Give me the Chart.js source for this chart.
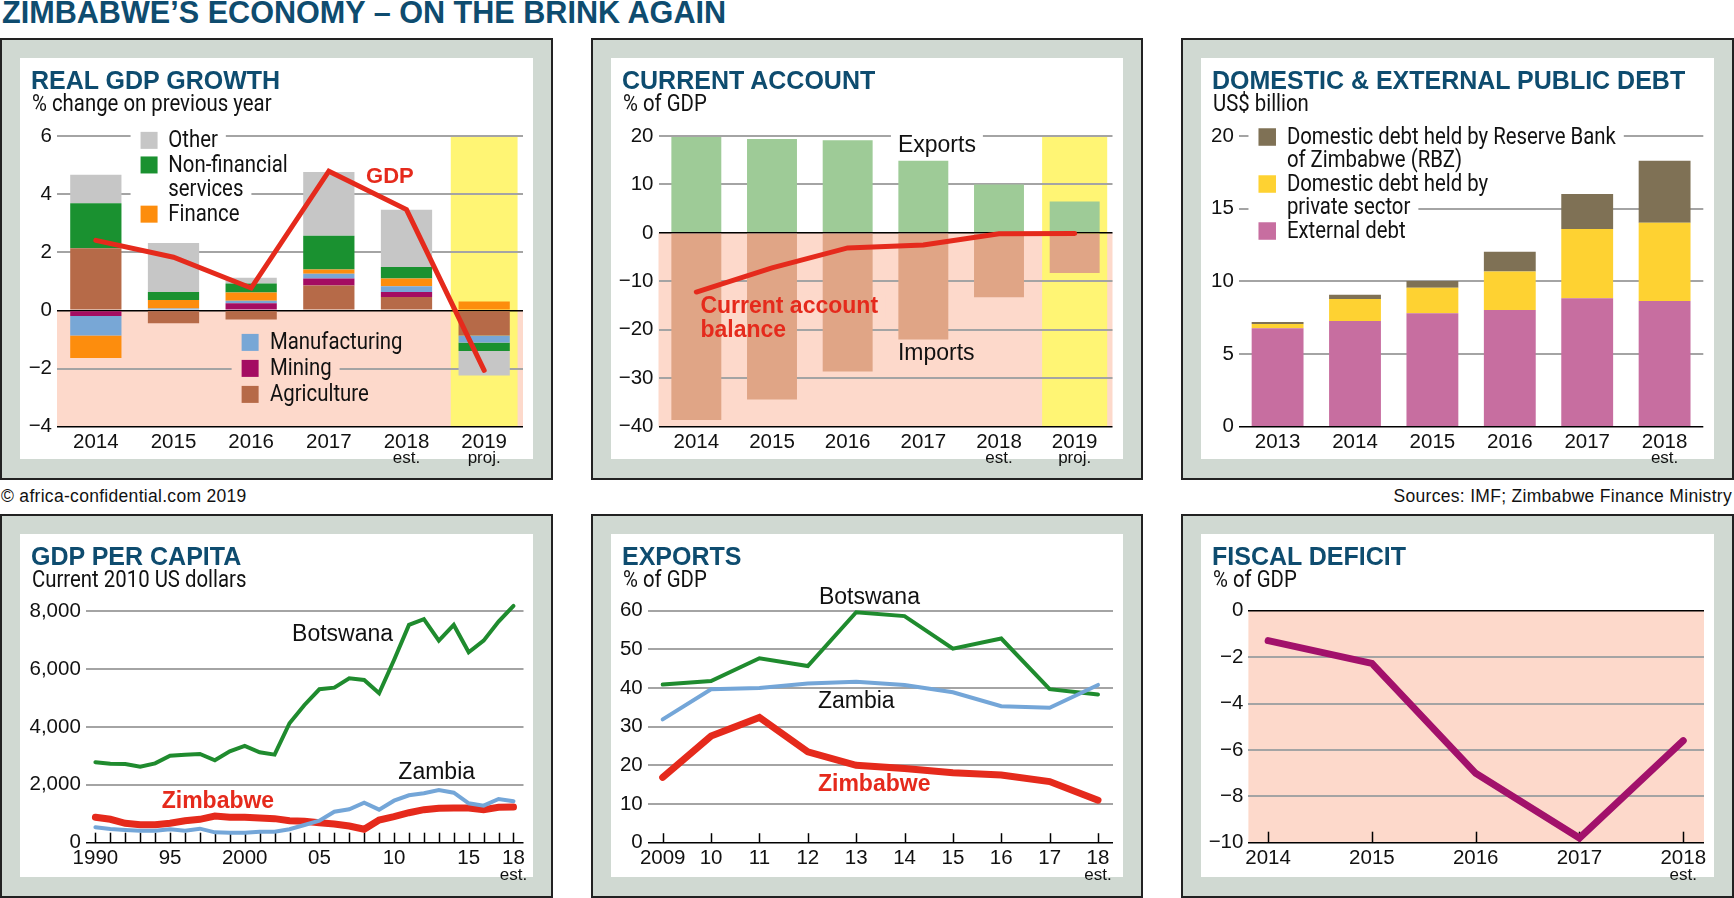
<!DOCTYPE html>
<html lang="en">
<head>
<meta charset="utf-8">
<title>Zimbabwe's economy – on the brink again</title>
<script src="https://cdn.jsdelivr.net/npm/chart.js@4.4.1/dist/chart.umd.min.js"></script>
<style>
  html, body { margin:0; padding:0; background:#fff; }
  body { position:relative; width:1734px; height:898px; overflow:hidden; font-family:'Liberation Sans', Arial, sans-serif; color:#111; }
  #mainTitle { position:absolute; left:2px; top:-3px; font-weight:bold; font-size:30.6px; line-height:1; color:#0e4c6f; white-space:nowrap; }
  .foot { position:absolute; top:488px; font-size:17.5px; line-height:1; letter-spacing:0.3px; white-space:nowrap; color:#111; }
  .panel { position:absolute; box-sizing:border-box; border:2px solid #222; background:#d0d9d2; }
  .inner { position:absolute; left:18px; top:18px; right:18px; bottom:19px; background:#fff; }
  .panel canvas { position:absolute; left:-2px; top:-2px; }
  .ptitle { position:absolute; left:29px; top:28px; font-weight:bold; font-size:25px; line-height:1; color:#0e4c6f; white-space:nowrap; }
  .psub { position:absolute; left:30px; top:52.3px; font-family:Roboto, sans-serif; font-size:23px; line-height:1; white-space:nowrap; color:#111;
          transform:scaleX(0.885); transform-origin:0 0; }
</style>
</head>
<body>
<div id="mainTitle">ZIMBABWE’S ECONOMY – ON THE BRINK AGAIN</div>

<div class="panel" style="left:0;top:38px;width:553px;height:442px">
  <div class="inner"></div>
  <canvas id="cGdp" width="553" height="442"></canvas>
  <div class="ptitle">REAL GDP GROWTH</div>
  <div class="psub">% change on previous year</div>
</div>
<div class="panel" style="left:591px;top:38px;width:552px;height:442px">
  <div class="inner"></div>
  <canvas id="cCa" width="552" height="442"></canvas>
  <div class="ptitle">CURRENT ACCOUNT</div>
  <div class="psub">% of GDP</div>
</div>
<div class="panel" style="left:1181px;top:38px;width:553px;height:442px">
  <div class="inner"></div>
  <canvas id="cDebt" width="553" height="442"></canvas>
  <div class="ptitle">DOMESTIC &amp; EXTERNAL PUBLIC DEBT</div>
  <div class="psub">US$ billion</div>
</div>

<div class="foot" style="left:1px">© africa-confidential.com 2019</div>
<div class="foot" style="right:2px">Sources: IMF; Zimbabwe Finance Ministry</div>

<div class="panel" style="left:0;top:514px;width:553px;height:384px">
  <div class="inner"></div>
  <canvas id="cPc" width="553" height="384"></canvas>
  <div class="ptitle">GDP PER CAPITA</div>
  <div class="psub">Current 2010 US dollars</div>
</div>
<div class="panel" style="left:591px;top:514px;width:552px;height:384px">
  <div class="inner"></div>
  <canvas id="cExp" width="552" height="384"></canvas>
  <div class="ptitle">EXPORTS</div>
  <div class="psub">% of GDP</div>
</div>
<div class="panel" style="left:1181px;top:514px;width:553px;height:384px">
  <div class="inner"></div>
  <canvas id="cFis" width="553" height="384"></canvas>
  <div class="ptitle">FISCAL DEFICIT</div>
  <div class="psub">% of GDP</div>
</div>

<script>
// ---------------- DATA ----------------
// Real GDP growth (% change on previous year), sector contributions
const gdpYears = ['2014', '2015', '2016', '2017', '2018', '2019'];
const gdpYearNotes = ['', '', '', '', 'est.', 'proj.'];
const agriculture = [2.14, -0.44, -0.31, 0.86, 0.46, -0.86];
const mining = [-0.19, 0, 0.25, 0.24, 0.17, 0];
const manufacturing = [-0.67, 0.07, 0.08, 0.16, 0.20, -0.25];
const finance = [-0.78, 0.29, 0.29, 0.15, 0.27, 0.31];
const nonFinancialServices = [1.55, 0.27, 0.31, 1.16, 0.39, -0.29];
const otherSectors = [0.98, 1.69, 0.19, 2.19, 1.97, -0.84];
const gdpGrowth = [2.41, 1.83, 0.77, 4.79, 3.47, -2.06];

// Current account (% of GDP)
const caYears = ['2014', '2015', '2016', '2017', '2018', '2019'];
const caYearNotes = ['', '', '', '', 'est.', 'proj.'];
const exportsShare = [19.8, 19.4, 19.1, 14.9, 10.0, 6.5];
const importsShare = [-38.6, -34.4, -28.6, -22.0, -13.3, -8.3];
const currentAccountBalance = [-12.2, -7.2, -3.1, -2.5, -0.2, -0.1];

// Domestic & external public debt (US$ billion)
const debtYears = ['2013', '2014', '2015', '2016', '2017', '2018'];
const debtYearNotes = ['', '', '', '', '', 'est.'];
const externalDebt = [6.77, 7.27, 7.80, 8.03, 8.83, 8.65];
const privateDomesticDebt = [0.29, 1.51, 1.76, 2.64, 4.77, 5.39];
const rbzDomesticDebt = [0.14, 0.30, 0.46, 1.37, 2.41, 4.26];

// GDP per capita (current 2010 US dollars)
const pcYears = [1990, 1991, 1992, 1993, 1994, 1995, 1996, 1997, 1998, 1999, 2000, 2001, 2002, 2003, 2004,
                 2005, 2006, 2007, 2008, 2009, 2010, 2011, 2012, 2013, 2014, 2015, 2016, 2017, 2018];
const botswanaPc = [2777, 2729, 2717, 2625, 2740, 3005, 3040, 3063, 2846, 3157, 3340, 3122, 3040, 4124, 4756,
                    5298, 5354, 5678, 5620, 5160, 6310, 7519, 7716, 6977, 7519, 6576, 6977, 7633, 8176];
const zambiaPc = [532, 473, 439, 414, 414, 463, 414, 484, 358, 346, 346, 380, 380, 463, 611,
                  760, 1071, 1153, 1382, 1140, 1451, 1637, 1706, 1820, 1727, 1361, 1278, 1509, 1430];
const zimbabwePc = [877, 808, 670, 622, 622, 670, 760, 808, 922, 877, 877, 854, 831, 760, 737,
                    691, 645, 577, 463, 784, 898, 1036, 1140, 1188, 1200, 1200, 1140, 1220, 1232];
const pcTickYears = [1990, 1995, 2000, 2005, 2010, 2015, 2018];
const pcTickLabels = ['1990', '95', '2000', '05', '10', '15', '18'];
const pcNoteYears = [2018];
const pcNotes = ['est.'];

// Exports (% of GDP)
const expYears = [2009, 2010, 2011, 2012, 2013, 2014, 2015, 2016, 2017, 2018];
const expTickLabels = ['2009', '10', '11', '12', '13', '14', '15', '16', '17', '18'];
const botswanaExports = [40.9, 41.8, 47.7, 45.7, 59.6, 58.6, 50.2, 52.8, 39.7, 38.3];
const zambiaExports = [31.9, 39.7, 40.0, 41.2, 41.6, 40.8, 38.9, 35.3, 34.9, 40.8];
const zimbabweExports = [16.9, 27.6, 32.4, 23.5, 20.0, 19.2, 18.1, 17.5, 15.8, 11.0];
const expNoteYears = [2018];
const expNotes = ['est.'];

// Fiscal deficit (% of GDP)
const fiscalYears = [2014, 2015, 2016, 2017, 2018];
const fiscalTickLabels = ['2014', '2015', '2016', '2017', '2018'];
const fiscalBalance = [-1.29, -2.27, -7.01, -9.8, -5.60];
const fiscalNoteYears = [2018];
const fiscalNotes = ['est.'];

// ---------------- STYLE ----------------
const FONT = "'Liberation Sans', Arial, sans-serif";
const NFONT = "23px Roboto, sans-serif";   // drawn horizontally condensed
const NSCALE = 0.885;
const INK = '#111';
const GRID = '#a4a4a4';
const PINK = '#fdd9cb';
const YELLOW = '#fff574';
const RED = '#e52a1c';

Chart.defaults.font.family = FONT;
Chart.defaults.color = INK;
Chart.defaults.animation = false;
Chart.defaults.events = [];
Chart.defaults.plugins.legend.display = false;
Chart.defaults.plugins.tooltip.enabled = false;

const minus = v => String(v).replace('-', '\u2212');

function yScale(o) {
  const strong = c => c.tick && (c.tick.value === 0 || c.tick.value === o.min);
  return {
    type: 'linear', min: o.min, max: o.max, stacked: !!o.stacked,
    afterFit: s => { s.width = o.width; },
    ticks: { stepSize: o.step, padding: 5, color: INK, font: { size: 20.5 }, callback: o.fmt || minus },
    grid: { drawTicks: false, color: c => strong(c) ? '#000' : GRID, lineWidth: c => strong(c) ? 1.6 : 2 },
    border: { display: false }
  };
}
function xCat(height) {
  return {
    type: 'category', offset: true, stacked: true,
    afterFit: s => { s.height = height; },
    grid: { display: false, drawTicks: false }, border: { display: false },
    ticks: { padding: 3, autoSkip: false, maxRotation: 0, color: INK, font: { size: 20.5 } }
  };
}
function xLin(o) {
  return {
    type: 'linear', min: o.min, max: o.max,
    afterFit: s => { s.height = o.height; },
    afterBuildTicks: s => { s.ticks = o.ticks.map(v => ({ value: v })); },
    grid: { display: false, drawTicks: false }, border: { display: false },
    ticks: { padding: 3, autoSkip: false, maxRotation: 0, color: INK, font: { size: 20.5 },
      callback: v => { const i = o.labelAt.indexOf(v); return i >= 0 ? o.labels[i] : ''; } }
  };
}

// background shading: pink below zero, yellow highlight column
function shadePlugin(opts) {
  return { id: 'shade', beforeDraw(chart) {
    const { ctx, chartArea: a, scales: { x, y } } = chart;
    ctx.save();
    if (opts.neg) {
      const y0 = Math.min(a.bottom, Math.max(a.top, y.getPixelForValue(0)));
      ctx.fillStyle = PINK;
      ctx.fillRect(a.left, y0, a.right - a.left, a.bottom - y0);
    }
    if (opts.highlight !== undefined) {
      const cw = (a.right - a.left) / chart.data.labels.length;
      const cx = x.getPixelForValue(opts.highlight);
      ctx.fillStyle = YELLOW;
      ctx.fillRect(cx - cw * 0.43, a.top, cw * 0.86, a.bottom - a.top);
    }
    ctx.restore();
  } };
}
// small tick marks pointing up from the x axis
function innerTicksPlugin(len) {
  return { id: 'innerTicks', beforeDatasetsDraw(chart) {
    const { ctx, chartArea: a, scales: { x } } = chart;
    ctx.save(); ctx.strokeStyle = '#000'; ctx.lineWidth = 1.5;
    x.ticks.forEach(t => {
      const px = Math.round(x.getPixelForValue(t.value)) + 0.5;
      ctx.beginPath(); ctx.moveTo(px, a.bottom); ctx.lineTo(px, a.bottom - len); ctx.stroke();
    });
    ctx.restore();
  } };
}
// "est." / "proj." under tick labels
function notesPlugin(values, texts, offset) {
  return { id: 'notes', afterDraw(chart) {
    const { ctx, chartArea: a, scales: { x } } = chart;
    ctx.save(); ctx.font = '17px ' + FONT; ctx.fillStyle = INK; ctx.textAlign = 'center'; ctx.textBaseline = 'middle';
    values.forEach((v, i) => { if (texts[i]) ctx.fillText(texts[i], x.getPixelForValue(v), a.bottom + offset); });
    ctx.restore();
  } };
}
// direct labels placed in data coordinates
function labelsPlugin(items) {
  return {
    id: 'directLabels',
    beforeDatasetsDraw(chart) {
      const { ctx, scales: { x, y } } = chart;
      ctx.save();
      items.forEach(it => {
        if (!it.erase) return;
        ctx.font = it.font; ctx.fillStyle = it.erase;
        const px = x.getPixelForValue(it.x), py = y.getPixelForValue(it.y);
        it.lines.forEach((ln, k) => {
          const w = ctx.measureText(ln).width;
          ctx.fillRect(px - 7, py + k * it.lh - it.lh * 0.8, w + 14, it.lh);
        });
      });
      ctx.restore();
    },
    afterDatasetsDraw(chart) {
      const { ctx, scales: { x, y } } = chart;
      ctx.save(); ctx.textAlign = 'left'; ctx.textBaseline = 'alphabetic';
      items.forEach(it => {
        ctx.font = it.font; ctx.fillStyle = it.color;
        const px = x.getPixelForValue(it.x), py = y.getPixelForValue(it.y);
        it.lines.forEach((ln, k) => ctx.fillText(ln, px, py + k * it.lh));
      });
      ctx.restore();
    }
  };
}
// in-plot legend with swatches, erasing grid lines behind it
function legendPlugin(id, L) {
  return { id, beforeDatasetsDraw(chart) {
    const { ctx, scales: { x, y } } = chart;
    const px = x.getPixelForValue(L.x), py0 = y.getPixelForValue(L.y);
    ctx.save(); ctx.font = NFONT; ctx.textBaseline = 'middle'; ctx.textAlign = 'left';
    L.rows.forEach((r, k) => {
      const cy = py0 + k * L.gap, w = ctx.measureText(r.text).width * NSCALE;
      ctx.fillStyle = L.erase; ctx.fillRect(px - 10, cy - L.gap / 2, L.dx + w + 18, L.gap);
    });
    L.rows.forEach((r, k) => {
      const cy = py0 + k * L.gap;
      if (r.color) { ctx.fillStyle = r.color; ctx.fillRect(px, cy - L.box / 2, L.box, L.box); }
      ctx.save(); ctx.translate(px + L.dx, cy + 1); ctx.scale(NSCALE, 1);
      ctx.fillStyle = INK; ctx.fillText(r.text, 0, 0); ctx.restore();
    });
    ctx.restore();
  } };
}

const C = {
  agriculture: '#b66a48', mining: '#a40c62', manufacturing: '#78a7d6', finance: '#fd8d0d',
  nonfin: '#1a9130', other: '#c6c6c6', exp: '#9ecb97', imp: '#e0a586',
  ext: '#c76ea0', priv: '#fed232', rbz: '#7f7155',
  botswana: '#1f8b2e', zambia: '#74a6d8', zimbabwe: '#e52a1c', fiscal: '#a2116b'
};
const bar = (label, data, color) => ({ type: 'bar', label, data, backgroundColor: color, borderWidth: 0,
  barPercentage: 0.66, categoryPercentage: 1 });

// ---------------- 1. REAL GDP GROWTH ----------------
new Chart(document.getElementById('cGdp'), {
  data: { labels: gdpYears, datasets: [
    bar('Agriculture', agriculture, C.agriculture),
    bar('Mining', mining, C.mining),
    bar('Manufacturing', manufacturing, C.manufacturing),
    bar('Finance', finance, C.finance),
    bar('Non-financial services', nonFinancialServices, C.nonfin),
    bar('Other', otherSectors, C.other),
    { type: 'line', label: 'GDP', data: gdpGrowth, borderColor: RED, borderWidth: 5, pointRadius: 0,
      borderCapStyle: 'round', order: -1, clip: false }
  ] },
  options: {
    responsive: false,
    layout: { padding: { left: 0, right: 30, top: 98, bottom: 20 } },
    scales: { x: xCat(33.3), y: yScale({ min: -4, max: 6, step: 2, width: 57, stacked: true }) }
  },
  plugins: [
    shadePlugin({ neg: true, highlight: 5 }),
    legendPlugin('legUp', { x: 0.576, y: 5.85, gap: 24.6, box: 17, dx: 27.7, erase: '#fff',
      rows: [{ color: C.other, text: 'Other' }, { color: C.nonfin, text: 'Non-financial' },
             { color: null, text: 'services' }, { color: C.finance, text: 'Finance' }] }),
    legendPlugin('legDown', { x: 1.877, y: -1.10, gap: 26, box: 17, dx: 28.4, erase: PINK,
      rows: [{ color: C.manufacturing, text: 'Manufacturing' }, { color: C.mining, text: 'Mining' },
             { color: C.agriculture, text: 'Agriculture' }] }),
    labelsPlugin([{ x: 3.48, y: 4.38, lines: ['GDP'], font: 'bold 22px ' + FONT, color: RED, lh: 24 }]),
    notesPlugin(gdpYears.map((_, i) => i), gdpYearNotes, 31.6)
  ]
});

// ---------------- 2. CURRENT ACCOUNT ----------------
new Chart(document.getElementById('cCa'), {
  data: { labels: caYears, datasets: [
    bar('Exports', exportsShare, C.exp),
    bar('Imports', importsShare, C.imp),
    { type: 'line', label: 'Current account balance', data: currentAccountBalance, borderColor: RED, borderWidth: 5,
      pointRadius: 0, borderCapStyle: 'round', order: -1, clip: false }
  ] },
  options: {
    responsive: false,
    layout: { padding: { left: 0, right: 30.5, top: 98, bottom: 20 } },
    scales: { x: xCat(33.3), y: yScale({ min: -40, max: 20, step: 10, width: 67.5, stacked: true }) }
  },
  plugins: [
    shadePlugin({ neg: true, highlight: 5 }),
    labelsPlugin([
      { x: 2.664, y: 16.76, lines: ['Exports'], font: '23px ' + FONT, color: INK, lh: 23.4, erase: '#fff' },
      { x: 2.664, y: -26.23, lines: ['Imports'], font: '23px ' + FONT, color: INK, lh: 23.4 },
      { x: 0.054, y: -16.6, lines: ['Current account', 'balance'], font: 'bold 23px ' + FONT, color: RED, lh: 23.4, erase: PINK }
    ]),
    notesPlugin(caYears.map((_, i) => i), caYearNotes, 31.6)
  ]
});

// ---------------- 3. PUBLIC DEBT ----------------
new Chart(document.getElementById('cDebt'), {
  data: { labels: debtYears, datasets: [
    Object.assign(bar('External debt', externalDebt, C.ext), { barPercentage: 0.67 }),
    Object.assign(bar('Domestic debt held by private sector', privateDomesticDebt, C.priv), { barPercentage: 0.67 }),
    Object.assign(bar('Domestic debt held by Reserve Bank of Zimbabwe (RBZ)', rbzDomesticDebt, C.rbz), { barPercentage: 0.67 })
  ] },
  options: {
    responsive: false,
    layout: { padding: { left: 0, right: 30.7, top: 98, bottom: 20 } },
    scales: { x: xCat(33.3), y: yScale({ min: 0, max: 20, step: 5, width: 57.9, stacked: true }) }
  },
  plugins: [
    legendPlugin('legDebt', { x: -0.247, y: 19.93, gap: 23.5, box: 17.5, dx: 28.4, erase: '#fff',
      rows: [{ color: C.rbz, text: 'Domestic debt held by Reserve Bank' }, { color: null, text: 'of Zimbabwe (RBZ)' },
             { color: C.priv, text: 'Domestic debt held by' }, { color: null, text: 'private sector' },
             { color: C.ext, text: 'External debt' }] }),
    notesPlugin(debtYears.map((_, i) => i), debtYearNotes, 31.6)
  ]
});

// ---------------- 4. GDP PER CAPITA ----------------
const xy = (xs, ys) => xs.map((v, i) => ({ x: v, y: ys[i] }));
const line = (label, xs, ys, color, w, order) => ({ type: 'line', label, data: xy(xs, ys), borderColor: color,
  borderWidth: w, pointRadius: 0, tension: 0, clip: false, order, borderCapStyle: 'round' });

new Chart(document.getElementById('cPc'), {
  data: { datasets: [
    line('Zambia', pcYears, zambiaPc, C.zambia, 4, 1),
    line('Zimbabwe', pcYears, zimbabwePc, C.zimbabwe, 7, 2),
    line('Botswana', pcYears, botswanaPc, C.botswana, 4, 3)
  ] },
  options: {
    responsive: false,
    layout: { padding: { left: 0, right: 29.5, top: 97, bottom: 20 } },
    scales: {
      x: xLin({ min: 1989.357, max: 2018.67, height: 35.3, ticks: pcYears, labelAt: pcTickYears, labels: pcTickLabels }),
      y: yScale({ min: 0, max: 8000, step: 2000, width: 85.8, fmt: v => v.toLocaleString('en-US') })
    }
  },
  plugins: [
    innerTicksPlugin(10),
    labelsPlugin([
      { x: 2003.17, y: 6977, lines: ['Botswana'], font: '23px ' + FONT, color: INK, lh: 24 },
      { x: 2010.29, y: 2190, lines: ['Zambia'], font: '23px ' + FONT, color: INK, lh: 24 },
      { x: 1994.44, y: 1188, lines: ['Zimbabwe'], font: 'bold 23px ' + FONT, color: RED, lh: 24 }
    ]),
    notesPlugin(pcNoteYears, pcNotes, 32.3)
  ]
});

// ---------------- 5. EXPORTS ----------------
new Chart(document.getElementById('cExp'), {
  data: { datasets: [
    line('Zambia', expYears, zambiaExports, C.zambia, 4, 1),
    line('Botswana', expYears, botswanaExports, C.botswana, 4, 2),
    line('Zimbabwe', expYears, zimbabweExports, C.zimbabwe, 7, 3)
  ] },
  options: {
    responsive: false,
    layout: { padding: { left: 0, right: 30, top: 96.7, bottom: 20 } },
    scales: {
      x: xLin({ min: 2008.69, max: 2018.31, height: 35.3, ticks: expYears, labelAt: expYears, labels: expTickLabels }),
      y: yScale({ min: 0, max: 60, step: 10, width: 56.7 })
    }
  },
  plugins: [
    innerTicksPlugin(9.5),
    labelsPlugin([
      { x: 2012.23, y: 61.7, lines: ['Botswana'], font: '23px ' + FONT, color: INK, lh: 24 },
      { x: 2012.21, y: 34.75, lines: ['Zambia'], font: '23px ' + FONT, color: INK, lh: 24 },
      { x: 2012.21, y: 13.37, lines: ['Zimbabwe'], font: 'bold 23px ' + FONT, color: RED, lh: 24 }
    ]),
    notesPlugin(expNoteYears, expNotes, 32.3)
  ]
});

// ---------------- 6. FISCAL DEFICIT ----------------
new Chart(document.getElementById('cFis'), {
  data: { datasets: [ line('Fiscal balance', fiscalYears, fiscalBalance, C.fiscal, 7, 1) ] },
  options: {
    responsive: false,
    layout: { padding: { left: 0, right: 30, top: 96.7, bottom: 20 } },
    scales: {
      x: xLin({ min: 2013.81, max: 2018.2, height: 35.3, ticks: fiscalYears, labelAt: fiscalYears, labels: fiscalTickLabels }),
      y: yScale({ min: -10, max: 0, step: 2, width: 67.4 })
    }
  },
  plugins: [
    { id: 'fisBg', beforeDraw(chart) { const { ctx, chartArea: a } = chart; ctx.save(); ctx.fillStyle = PINK;
      ctx.fillRect(a.left, a.top, a.right - a.left, a.bottom - a.top); ctx.restore(); } },
    innerTicksPlugin(11),
    notesPlugin(fiscalNoteYears, fiscalNotes, 32.3)
  ]
});
</script>
</body>
</html>
